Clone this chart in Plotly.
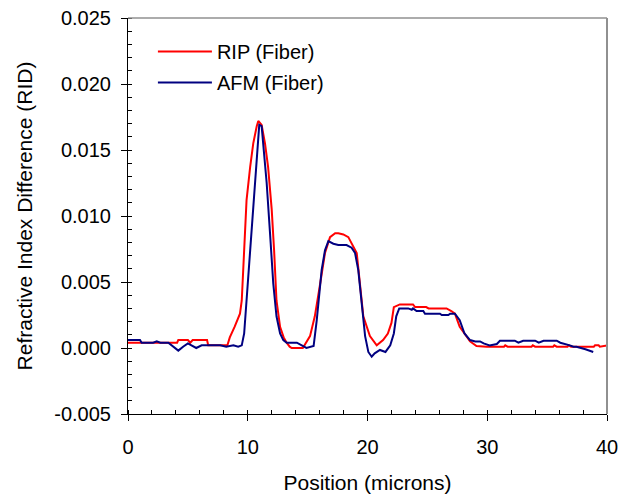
import plotly.graph_objects as go

# RIP (Fiber) profile: position (microns) and refractive index difference
rip_x = [0, 4.1, 4.2, 5.0, 5.2, 5.4, 6.6, 6.7, 8.3, 8.5, 8.9, 9.35, 9.5, 9.63, 9.9,
         10.2, 10.46, 10.75, 10.88, 11.16, 11.44, 11.7, 12.0, 12.2, 12.4, 12.7, 13.0,
         13.25, 13.5, 13.67, 14.6, 15.2, 15.6, 16.0, 16.45, 16.87, 17.3, 17.56, 17.98,
         18.4, 18.8, 19.1, 19.4, 19.65, 20.2, 20.77, 21.3, 21.7, 22.0, 22.2, 22.7, 23.8,
         23.97, 24.9, 25.1, 26.6, 27.0, 27.3, 27.7, 28.1, 28.56, 29.1, 29.95, 31.4, 31.5,
         31.7, 33.7, 33.8, 34.0, 35.5, 35.6, 35.8, 36.7, 36.8, 37.0, 38.9, 39.0, 39.3,
         39.4, 40.0]
rip_y = [0.0004, 0.0004, 0.0006, 0.0006, 0.0004, 0.0006, 0.0006, 0.0002, 0.0002, 0.0008,
         0.0016, 0.0026, 0.0036, 0.0062, 0.0112, 0.0137, 0.0155, 0.0168, 0.0172, 0.0169,
         0.0155, 0.0137, 0.0105, 0.0074, 0.0036, 0.0016, 0.0008, 0.0004, 0.0001, 0.0,
         0.0, 0.0009, 0.0024, 0.0046, 0.0072, 0.0084, 0.0087, 0.0087, 0.0086, 0.0084,
         0.0077, 0.0072, 0.0046, 0.0024, 0.0009, 0.0002, 0.0006, 0.0011, 0.0019, 0.0031,
         0.0033, 0.0033, 0.0031, 0.0031, 0.0030, 0.0030, 0.0028, 0.0026, 0.0016, 0.0011,
         0.0005, 0.00015, 0.0001, 0.0001, 0.0002, 0.0001, 0.0001, 0.0002, 0.0001, 0.0001,
         0.0002, 0.0001, 0.0001, 0.0002, 0.0001, 0.0001, 0.0002, 0.0002, 0.0001, 0.0002]

# AFM (Fiber) profile
afm_x = [0, 1.0, 1.14, 2.1, 2.4, 2.7, 3.37, 3.8, 4.2, 4.6, 5.0, 5.3, 5.7, 6.15, 7.7,
         8.2, 8.8, 9.2, 9.5, 9.7, 9.9, 10.2, 10.46, 10.75, 10.96, 11.16, 11.3, 11.58,
         11.86, 12.13, 12.4, 12.7, 12.97, 13.25, 14.1, 14.6, 14.9, 15.5, 15.76, 16.17,
         16.45, 16.73, 17.15, 17.56, 18.25, 18.67, 18.96, 19.23, 19.5, 19.8, 20.07, 20.35,
         20.6, 20.77, 21.04, 21.5, 21.9, 22.2, 22.4, 22.65, 23.4, 23.7, 23.8, 24.1, 24.66,
         24.8, 26.05, 26.2, 26.75, 26.9, 27.3, 27.7, 28.1, 28.56, 29.0, 29.4, 29.7, 30.2,
         30.8, 31.06, 32.3, 32.6, 33.0, 34.0, 34.3, 34.7, 35.8, 36.1, 36.6, 36.9, 37.2,
         37.45, 38.2, 38.6, 38.85]
afm_y = [0.0006, 0.0006, 0.0004, 0.0004, 0.0005, 0.0004, 0.0004, 0.0001, -0.0002, 0.0001,
         0.00035, 0.0002, 0.0, 0.0002, 0.0002, 0.0001, 0.0002, 0.0001, 0.0002, 0.0011,
         0.0036, 0.0074, 0.0112, 0.0150, 0.0169, 0.0168, 0.0155, 0.0125, 0.0087, 0.0049,
         0.0024, 0.0011, 0.0006, 0.0004, 0.0004, 0.00015, 0.0, 0.00015, 0.0021, 0.0059,
         0.0074, 0.0081, 0.0079, 0.0078, 0.0078, 0.0076, 0.0072, 0.0059, 0.0034, 0.0009,
         -0.0003, -0.00066, -0.0004, -0.0003, -0.00015, -0.0003, 0.0002, 0.0011, 0.0024,
         0.0030, 0.0030, 0.0029, 0.0030, 0.0028, 0.0028, 0.0026, 0.0026, 0.0025, 0.0025,
         0.0026, 0.0026, 0.0021, 0.0011, 0.0006, 0.0005, 0.0005, 0.00035, 0.0002, 0.0003,
         0.00055, 0.00055, 0.0004, 0.00055, 0.00055, 0.0004, 0.00055, 0.00055, 0.0004,
         0.0003, 0.0002, 0.0001, 0.0001, -0.0001, -0.0002, -0.0003]

# Tick values and labels
x_tickvals = [0, 10, 20, 30, 40]
x_ticktext = ["0", "10", "20", "30", "40"]
y_tickvals = [-0.005, 0.0, 0.005, 0.010, 0.015, 0.020, 0.025]
y_ticktext = ["-0.005", "0.000", "0.005", "0.010", "0.015", "0.020", "0.025"]

assert len(rip_x) == len(rip_y), (len(rip_x), len(rip_y))
assert len(afm_x) == len(afm_y), (len(afm_x), len(afm_y))

FONT = "Liberation Sans, Arial, sans-serif"

fig = go.Figure()
fig.add_trace(go.Scatter(x=rip_x, y=rip_y, mode="lines", name="RIP (Fiber)",
                         line=dict(color="#ff0000", width=2), legend="legend",
                         showlegend=True))
fig.add_trace(go.Scatter(x=afm_x, y=afm_y, mode="lines", name="AFM (Fiber)",
                         line=dict(color="#000080", width=2), legend="legend2",
                         showlegend=True))

axis_common = dict(showgrid=False, zeroline=False, showline=True, linecolor="black",
                   linewidth=1, ticks="outside", ticklen=6, tickcolor="black",
                   automargin=False, tickmode="array", ticklabeloverflow="allow",
                   tickfont=dict(family=FONT, size=20, color="black"))

fig.update_xaxes(range=[0, 40], tickvals=x_tickvals, ticktext=x_ticktext,
                 minor=dict(dtick=2, tick0=0, ticks="inside", ticklen=4, tickcolor="black"),
                 title=dict(text="Position (microns)", font=dict(family=FONT, size=21, color="black"),
                            standoff=18),
                 ticklabelstandoff=9, **axis_common)
fig.update_yaxes(range=[-0.005, 0.025], tickvals=y_tickvals, ticktext=y_ticktext,
                 minor=dict(dtick=0.001, tick0=0, ticks="inside", ticklen=4, tickcolor="black"),
                 title=dict(text="Refractive Index Difference (RID)",
                            font=dict(family=FONT, size=21, color="black"), standoff=15),
                 ticklabelstandoff=6, **axis_common)

leg_common = dict(bgcolor="rgba(0,0,0,0)", borderwidth=0, xanchor="left", yanchor="middle",
                  font=dict(family=FONT, size=20, color="black"), itemwidth=54, visible=True)
fig.update_layout(
    width=618, height=495,
    margin=dict(l=128, r=11, t=18, b=81),
    paper_bgcolor="white", plot_bgcolor="white",
    showlegend=True,
    legend=dict(x=0.052, y=0.9157, **leg_common),
    legend2=dict(x=0.052, y=0.8373, **leg_common),
    shapes=[
        dict(type="line", xref="paper", yref="paper", x0=0, x1=1, y0=1, y1=1,
             line=dict(color="#909090", width=1.5)),
        dict(type="line", xref="paper", yref="paper", x0=1, x1=1, y0=0, y1=1,
             line=dict(color="#909090", width=2)),
    ],
)

# Remove the browser's default page margin so the figure fills the window exactly.
fig.write_html(
    "out.html",
    config={"displayModeBar": False},
    post_script="document.body.style.margin='0';document.body.style.overflow='hidden';",
)
